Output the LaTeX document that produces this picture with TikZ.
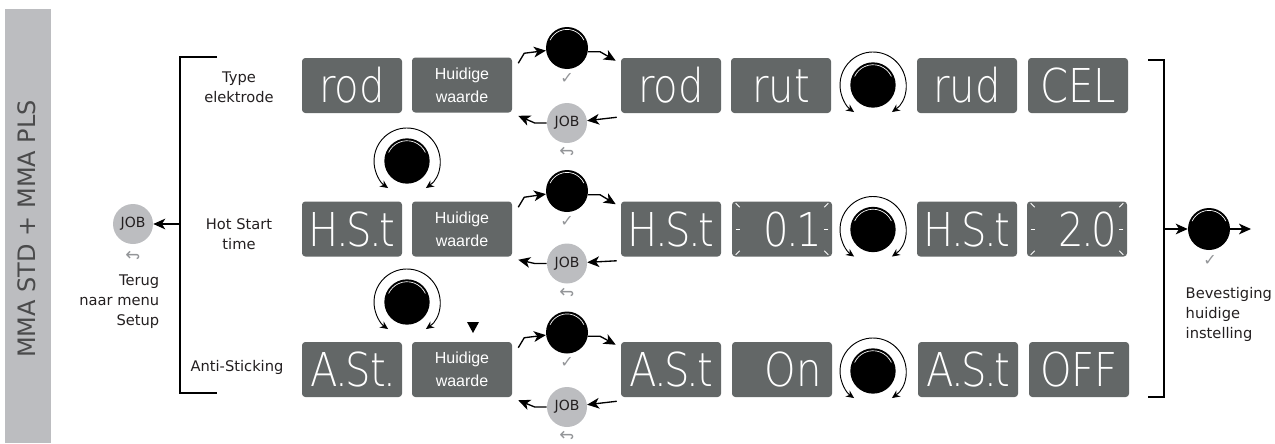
\documentclass[tikz,border=0pt]{standalone}
\usepackage{fontspec}
\setmainfont{DejaVu Sans}
\newfontfamily\huifont{Liberation Sans}
\IfFontExistsTF{DejaVu Sans ExtraLight}
    {\newfontfamily\segfont[FakeStretch=0.86]{DejaVu Sans ExtraLight}}
    {\newfontfamily\segfont[FakeStretch=0.86]{DejaVu Sans Mono}}
\usetikzlibrary{arrows.meta}
\definecolor{lcdgray}{HTML}{636767}
\definecolor{jobgray}{HTML}{BCBDC0}
\definecolor{ink}{HTML}{231F20}
\definecolor{tickgray}{HTML}{939598}
\definecolor{titlegray}{HTML}{4A4A4B}
\newcommand{\sdot}{\makebox[0.16em]{.}}

\begin{document}
\begin{tikzpicture}[x=0.75pt, y=0.75pt,
    lcd/.style={fill=lcdgray, rounded corners=2.5pt, minimum width=75pt, minimum height=41.25pt,
            inner sep=0pt, text=white, font=\segfont\fontsize{35}{35}\selectfont,
            text height=25.5pt, text depth=0pt},
    hui/.style={fill=lcdgray, rounded corners=2.5pt, minimum width=75pt, minimum height=41.25pt,
            inner sep=0pt, align=center, text=white, font=\huifont\fontsize{12}{17}\selectfont},
    lbl/.style={align=center, text=ink, font=\fontsize{11}{15}\selectfont},
    job/.style={circle, fill=jobgray, inner sep=0pt, minimum size=30pt, text=ink,
            font=\fontsize{10.5}{12}\selectfont},
    knob/.style={circle, fill=black, inner sep=0pt, minimum size={2*#1},
            path picture={\draw[white, line width=0.5pt] (path picture bounding box.center)
                ++(25:#1-1.8pt) arc[start angle=25, end angle=155, radius=#1-1.8pt];}},
    tick/.style={text=tickgray, inner sep=1pt, font=\fontsize{12}{12}\selectfont},
    undo/.style={text=tickgray, inner sep=1pt, font=\fontsize{13.5}{13.5}\selectfont},
    arr/.style={-{Stealth[length=9pt, width=8pt, inset=2.5pt]}, line width=1pt},
    rotarr/.style={{Stealth[length=6pt, width=5.5pt]}-{Stealth[length=6pt, width=5.5pt]}, line width=0.7pt},
    blink/.style={draw=white, line width=0.7pt}
]
\useasboundingbox (0,0) rectangle (1275,-443);

% title bar
\fill[jobgray] (5,-9) rectangle (51,-443);
\node[rotate=90, text=titlegray, font=\fontsize{18}{18}\selectfont] (title) at (27,-229) {MMA STD + MMA PLS};

% back to setup menu
\node[job] (jobL) at (133,-224) {JOB};
\node[undo] (undoL) at (133,-255) {\scalebox{1}[-1]{↩}};
\node[lbl, align=right, anchor=east] (back) at (164,-302) {Terug\\naar menu\\Setup};
\draw[line width=1pt] (217,-57) -- (180,-57) -- (180,-393) -- (217,-393);
\coordinate (lbr) at (180,-224);
\draw[arr] (lbr) -- (jobL);

% row 1
\node[lbl] (type) at (239,-87) {Type\\elektrode};
\node[lcd] (dA1) at (352,-85.5) {rod};
\node[hui] (hui1) at (462,-85) {Huidige\\waarde};
\node[lcd] (dB1) at (671,-85.5) {rod};
\node[lcd] (dC1) at (781,-85.5) {rut};
\node[lcd] (dD1) at (967,-85.5) {rud};
\node[lcd] (dE1) at (1078,-85.5) {CEL};

% row 2
\node[lbl] (hot) at (239,-234) {Hot Start\\time};
\node[lcd] (dA2) at (352,-229) {H\sdot S\sdot t};
\node[hui] (hui2) at (462,-229) {Huidige\\waarde};
\node[lcd] (dB2) at (671,-229) {H\sdot S\sdot t};
\node[lcd] (dC2) at (782,-229) {\makebox[60pt][r]{0\sdot 1}};
\node[lcd] (dD2) at (967,-229) {H\sdot S\sdot t};
\node[lcd] (dE2) at (1077,-229) {\makebox[60pt][r]{2\sdot 0}};

% row 3
\node[lbl] (anti) at (237,-367) {Anti-Sticking};
\node[lcd] (dA3) at (352,-369.5) {A\sdot St\sdot};
\node[hui] (hui3) at (462,-369.5) {Huidige\\waarde};
\node[lcd] (dB3) at (671,-369.5) {A\sdot S\sdot t};
\node[lcd] (dC3) at (782,-369.5) {\makebox[60pt][r]{On}};
\node[lcd] (dD3) at (968,-369.5) {A\sdot S\sdot t};
\node[lcd] (dE3) at (1079,-369.5) {OFF};
\fill (467,-322) -- (479,-322) -- (473,-333) -- cycle;

% blinking value
\foreach \lcdn in {dC2, dE2} {
    \draw[blink] ([shift={(4,-2)}]\lcdn.north west) -- ++(4,-4);
    \draw[blink] ([shift={(4,0)}]\lcdn.west) -- ++(4,0);
    \draw[blink] ([shift={(4,2)}]\lcdn.south west) -- ++(4,4);
    \draw[blink] ([shift={(-4,-2)}]\lcdn.north east) -- ++(-4,-4);
    \draw[blink] ([shift={(-4,0)}]\lcdn.east) -- ++(-4,0);
    \draw[blink] ([shift={(-4,2)}]\lcdn.south east) -- ++(-4,4);
}

% turning knobs
\foreach \r/\x/\y in {1/873/-85, 2/873/-229.5, 3/873/-371, 4/407/-161, 5/407/-302} {
    \node[knob=17pt] (rot\r) at (\x,\y) {};
    \draw[rotarr] ([shift={(-55:24.75pt)}]rot\r.center) arc[start angle=-55, end angle=235, radius=24.75pt];
}

% press / JOB loop of each row
\foreach \r/\k/\j in {1/-48/-123, 2/-191/-263.5, 3/-332.5/-407} {
    \node[knob=15.75pt] (press\r) at (567,\k) {};
    \node[tick] (ok\r) at (567,\k-30) {✓};
    \node[job] (job\r) at (567,\j) {JOB};
    \node[undo] (undo\r) at (567,\j-28) {\scalebox{1}[-1]{↩}};
    \draw[arr] ([shift={(6,-6)}]hui\r.north east) -- ++(6,10) -- (press\r);
    \draw[arr] (press\r.-10) -- ++(12,0) -- ([shift={(-5,-3)}]dB\r.north west);
    \draw[arr] ([shift={(-4,-4)}]dB\r.south west) -- (job\r);
    \draw[arr] (job\r.west) -- ++(-12,0) -- ([shift={(6,-3)}]hui\r.south east);
}

% confirm
\draw[line width=1pt] (1148,-60) -- (1164,-60) -- (1164,-397) -- (1148,-397);
\coordinate (rbr) at (1164,-229);
\node[knob=15.75pt] (okknob) at (1209,-229) {};
\coordinate (okout) at (1251,-229);
\draw[arr] (rbr) -- (okknob);
\draw[arr] (okknob) -- (okout);
\node[tick] (okR) at (1210,-260) {✓};
\node[lbl, align=left, anchor=west] (confirm) at (1181,-314) {Bevestiging\\huidige\\instelling};
\end{tikzpicture}
\end{document}
